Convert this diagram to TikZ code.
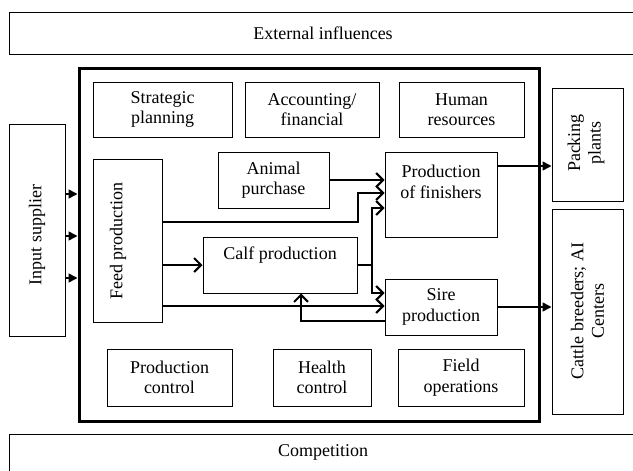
\documentclass[tikz,border=0pt]{standalone}
\usepackage{fontspec}
\setmainfont{Liberation Serif}
\usetikzlibrary{arrows.meta}
\begin{document}
\begin{tikzpicture}[x=1pt,y=-1pt,
  box/.style={draw, line width=1pt, inner sep=0pt, align=center, font=\fontsize{18}{20.5}\selectfont},
  txt/.style={align=center, inner sep=0pt, font=\fontsize{18}{20.5}\selectfont},
  conn/.style={line width=2pt, -{Straight Barb[length=7pt,width=14pt]}},
  fconn/.style={line width=1.6pt, -{Triangle[length=9pt,width=9pt]}},
  plainline/.style={line width=2pt}
]
\useasboundingbox (0,0) rectangle (633,471);
% outer bands
\node[box, minimum width=628pt, minimum height=42pt] (ext) at (323,33) {External influences};
\node[box, minimum width=628pt, minimum height=42pt] (comp) at (323,455) {};
\node[txt] at (323,452) {Competition};
% main frame
\node[draw, line width=3pt, minimum width=460pt, minimum height=353pt, inner sep=0pt] (main) at (309,244.5) {};
% top row
\node[box, minimum width=139pt, minimum height=55pt] (strat) at (162.5,109.5) {Strategic\\planning};
\node[box, minimum width=134pt, minimum height=55pt] (acct) at (312,109.5) {Accounting/\\financial};
\node[box, minimum width=125pt, minimum height=55pt] (human) at (461.5,109.5) {Human\\resources};
% bottom row
\node[box, minimum width=125pt, minimum height=57pt] (pc) at (169.5,377.5) {Production\\control};
\node[box, minimum width=98pt, minimum height=57pt] (hc) at (322,377.5) {Health\\control};
\node[box, minimum width=126pt, minimum height=57pt] (field) at (461,377.5) {Field\\operations};
% side boxes
\node[box, minimum width=56pt, minimum height=212pt] (input) at (37,230) {};
\node[txt, rotate=90] at (37,235) {Input supplier};
\node[box, minimum width=71pt, minimum height=113pt] (pack) at (587.5,144.5) {};
\node[txt, rotate=90] at (586,143) {Packing\\plants};
\node[box, minimum width=71pt, minimum height=205pt] (cattle) at (587.5,311.5) {};
\node[txt, rotate=90] at (587.5,311) {Cattle breeders; AI\\Centers};
% inner process boxes
\node[box, minimum width=69pt, minimum height=163pt] (feed) at (127.5,240.5) {};
\node[txt, rotate=90] at (118,241) {Feed production};
\node[box, minimum width=111pt, minimum height=56pt] (animal) at (273.5,180) {Animal\\purchase};
\node[box, minimum width=112pt, minimum height=85pt] (fin) at (441,194.5) {};
\node[txt] at (441,182) {Production\\of finishers};
\node[box, minimum width=154pt, minimum height=56pt] (calf) at (280,265) {};
\node[txt] at (280,255) {Calf production};
\node[box, minimum width=112pt, minimum height=56pt] (sire) at (441,307) {Sire\\production};
\coordinate (split) at (372,265);
% connectors
\draw[conn] (animal.east) -- (fin.west |- animal.east);
\draw[conn] (feed.east |- 0,222) -| (calf.east |- 0,193) -- (fin.west |- 0,193);
\draw[plainline] (calf.east) -- (split);
\draw[conn] (split) |- (fin.west |- 0,208);
\draw[conn] (split) |- (sire.west |- 0,293);
\draw[conn] (feed.east |- calf.west) -- (calf.west);
\draw[conn] (feed.east |- 0,306) -- (sire.west |- 0,306);
\draw[conn] (sire.west |- 0,321) -| (301,0 |- calf.south);
\draw[fconn] (fin.east |- 0,166) -- (pack.west |- 0,166);
\draw[fconn] (sire.east) -- (cattle.west |- sire.east);
\foreach \yy in {194,236,278}
  \draw[fconn] (input.east |- 0,\yy) -- (main.west |- 0,\yy);
\end{tikzpicture}
\end{document}
